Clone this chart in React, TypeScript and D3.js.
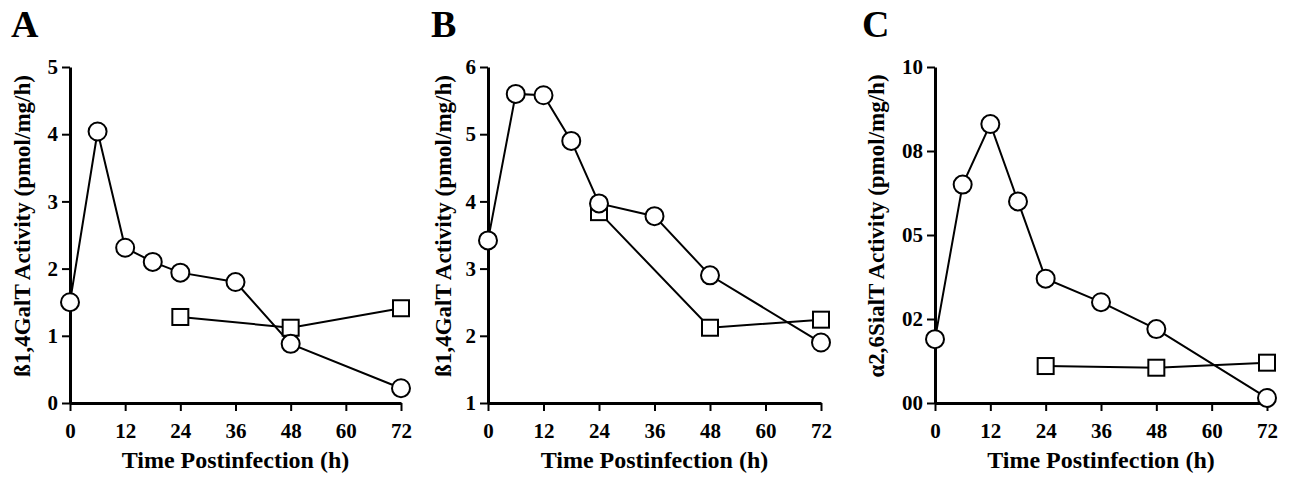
import React, { useRef, useEffect } from "react";
import * as d3 from "d3";

// hours postinfection
const hours = [0, 6, 12, 18, 24, 36, 48, 72];
const squareHours = [24, 48, 72];
const xTicks = [0, 12, 24, 36, 48, 60, 72];

// panel A: B1,4GalT
const circlesA = [1.5, 4.04, 2.31, 2.1, 1.94, 1.8, 0.88, 0.22];
const squaresA = [1.28, 1.12, 1.41];
const yTicksA = [0, 1, 2, 3, 4, 5];
const yLabelsA = ["0", "1", "2", "3", "4", "5"];

// panel B: B1,4GalT
const circlesB = [3.42, 5.6, 5.58, 4.9, 3.97, 3.78, 2.9, 1.9];
const squaresB = [3.84, 2.12, 2.24];
const yTicksB = [1, 2, 3, 4, 5, 6];
const yLabelsB = ["1", "2", "3", "4", "5", "6"];

// panel C: a2,6SialT
const circlesC = [0.19, 0.65, 0.83, 0.6, 0.37, 0.3, 0.22, 0.015];
const squaresC = [0.11, 0.105, 0.12];
const yTicksC = [0, 0.25, 0.5, 0.75, 1];
const yLabelsC = ["00", "02", "05", "08", "10"];

const FONT = "'Liberation Serif', 'Times New Roman', serif";

const panels = [
  {
    letter: "A", letterX: 11, x0: 70, x1: 401, yDomain: [0, 5],
    ticks: yTicksA, labels: yLabelsA, circles: circlesA, squares: squaresA,
    title: "\u00DF1,4GalT Activity (pmol/mg/h)", titleX: 22,
  },
  {
    letter: "B", letterX: 431, x0: 488, x1: 821, yDomain: [1, 6],
    ticks: yTicksB, labels: yLabelsB, circles: circlesB, squares: squaresB,
    title: "\u00DF1,4GalT Activity (pmol/mg/h)", titleX: 443,
  },
  {
    letter: "C", letterX: 862, x0: 935, x1: 1267, yDomain: [0, 1],
    ticks: yTicksC, labels: yLabelsC, circles: circlesC, squares: squaresC,
    title: "\u03B12,6SialT Activity (pmol/mg/h)", titleX: 876,
  },
];

const App = () => {
  const svgRef = useRef<SVGSVGElement>(null);

  useEffect(() => {
    const svg = d3.select(svgRef.current);
    svg.selectAll("*").remove();

    const top = 67;
    const bottom = 403;

    panels.forEach((p) => {
      const g = svg.append("g");

      const x = d3.scaleLinear().domain([0, 72]).range([p.x0, p.x1]);
      const y = d3.scaleLinear().domain(p.yDomain).range([bottom, top]);

      // panel letter
      g.append("text")
        .attr("x", p.letterX)
        .attr("y", 37)
        .attr("font-family", FONT)
        .attr("font-weight", "bold")
        .attr("font-size", 38)
        .text(p.letter);

      const yAxis = g
        .append("g")
        .attr("transform", `translate(${p.x0},0)`)
        .call(
          d3
            .axisLeft(y)
            .tickValues(p.ticks)
            .tickFormat((d, i) => p.labels[i])
            .tickSize(8)
            .tickSizeOuter(0)
        );

      const xAxis = g
        .append("g")
        .attr("transform", `translate(0,${bottom})`)
        .call(d3.axisBottom(x).tickValues(xTicks).tickSize(8).tickSizeOuter(0));

      [yAxis, xAxis].forEach((ax) => {
        ax.attr("font-family", FONT);
        ax.select(".domain").attr("stroke", "#000").attr("stroke-width", 3);
        ax.selectAll(".tick line").attr("stroke", "#000").attr("stroke-width", 2);
        ax.selectAll(".tick text")
          .attr("font-family", FONT)
          .attr("font-weight", "bold")
          .attr("font-size", 21)
          .attr("fill", "#000");
      });
      yAxis.selectAll(".tick text").attr("x", -12);
      xAxis.selectAll(".tick text").attr("y", 20);

      // axis titles
      g.append("text")
        .attr("x", (p.x0 + p.x1) / 2)
        .attr("y", 468)
        .attr("text-anchor", "middle")
        .attr("font-family", FONT)
        .attr("font-weight", "bold")
        .attr("font-size", 24)
        .text("Time Postinfection (h)");

      g.append("text")
        .attr("transform", `translate(${p.titleX},${(top + bottom) / 2 - 9}) rotate(-90)`)
        .attr("text-anchor", "middle")
        .attr("dominant-baseline", "central")
        .attr("font-family", FONT)
        .attr("font-weight", "bold")
        .attr("font-size", 23)
        .text(p.title);

      const line = d3
        .line<[number, number]>()
        .x((d) => x(d[0]))
        .y((d) => y(d[1]));

      const circleData = hours.map((h, i) => [h, p.circles[i]] as [number, number]);
      const squareData = squareHours.map((h, i) => [h, p.squares[i]] as [number, number]);

      g.append("path")
        .attr("d", line(squareData))
        .attr("fill", "none")
        .attr("stroke", "#000")
        .attr("stroke-width", 2);

      g.append("path")
        .attr("d", line(circleData))
        .attr("fill", "none")
        .attr("stroke", "#000")
        .attr("stroke-width", 2);

      g.selectAll("rect.sq")
        .data(squareData)
        .join("rect")
        .attr("class", "sq")
        .attr("x", (d) => x(d[0]) - 8)
        .attr("y", (d) => y(d[1]) - 8)
        .attr("width", 16)
        .attr("height", 16)
        .attr("fill", "#fff")
        .attr("stroke", "#000")
        .attr("stroke-width", 2);

      g.selectAll("circle.pt")
        .data(circleData)
        .join("circle")
        .attr("class", "pt")
        .attr("cx", (d) => x(d[0]))
        .attr("cy", (d) => y(d[1]))
        .attr("r", 9)
        .attr("fill", "#fff")
        .attr("stroke", "#000")
        .attr("stroke-width", 2);
    });
  }, []);

  return (
    <svg
      ref={svgRef}
      width={1292}
      height={477}
      style={{ position: "absolute", left: 0, top: 0, background: "#fff" }}
    ></svg>
  );
};

export default App;
